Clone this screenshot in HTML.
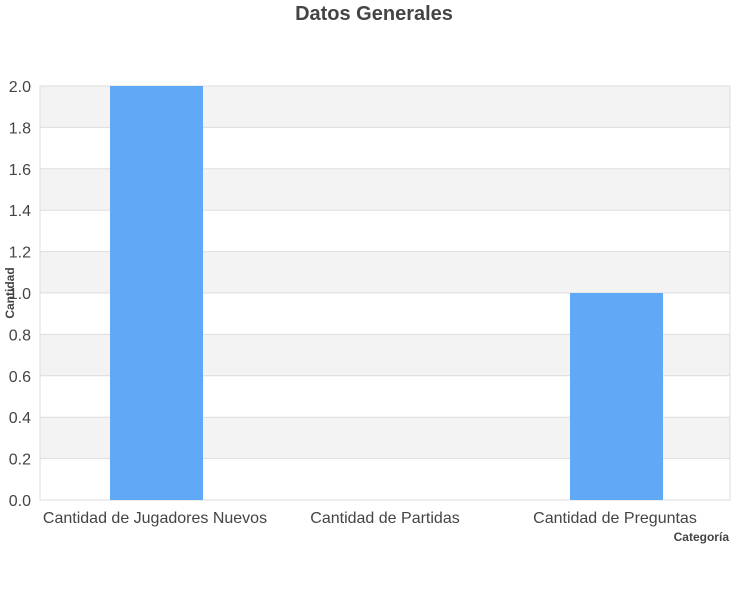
<!DOCTYPE html>
<html><head><meta charset="utf-8"><style>
body{margin:0;background:#fff;}
svg{display:block;font-family:"Liberation Sans",sans-serif;}
</style></head><body>
<svg id="c" width="750" height="600">
<text x="374" y="20" text-anchor="middle" font-size="20" font-weight="bold" fill="#444">Datos Generales</text>
<g id="plot"></g>
<text transform="translate(14,293) rotate(-90)" text-anchor="middle" font-size="12" font-weight="bold" fill="#444">Cantidad</text>
<text x="729" y="541" text-anchor="end" font-size="12" font-weight="bold" fill="#444">Categoría</text>
</svg>
<script>
const categories=["Cantidad de Jugadores Nuevos","Cantidad de Partidas","Cantidad de Preguntas"];
const values=[2,0,1];
const yTicks=[0,0.2,0.4,0.6,0.8,1.0,1.2,1.4,1.6,1.8,2.0];
const L=40,R=730,T=86,B=500,yMax=2;
const y=v=>B-(v/yMax)*(B-T);
const bw=(R-L)/categories.length;
const x=i=>L+bw*i;
const g=document.getElementById('plot');
const NS="http://www.w3.org/2000/svg";
function mk(t,a){const e=document.createElementNS(NS,t);for(const k in a)e.setAttribute(k,a[k]);g.appendChild(e);return e;}
for(let i=0;i<yTicks.length-1;i++){
  const b=mk('rect',{x:L,y:y(yTicks[i+1]),width:R-L,height:y(yTicks[i])-y(yTicks[i+1]),fill:(i%2===0)?'#fff':'#f3f3f3'});
  
  
}
yTicks.forEach(v=>{
  const l=mk('line',{x1:L,x2:R,y1:y(v),y2:y(v),stroke:'#ddd','stroke-width':1});
  
  
  const t=mk('text',{x:31,y:y(v)+6,'text-anchor':'end','font-size':16,fill:'#444'});
  t.textContent=v.toFixed(1);
  
  
});
const fr=mk('rect',{x:L,y:T,width:R-L,height:B-T,fill:'none',stroke:'#ddd'});


categories.forEach((c,i)=>{
  const w=93,cx=x(i)+bw/2+1.5;
  const r=mk('rect',{x:cx-w/2,y:y(values[i]),width:w,height:B-y(values[i]),fill:'#60a9f6'});
  
  
  const t=mk('text',{x:x(i)+bw/2,y:523,'text-anchor':'middle','font-size':16,fill:'#444'});
  t.textContent=c;
  
  
});
</script>
</body></html>
